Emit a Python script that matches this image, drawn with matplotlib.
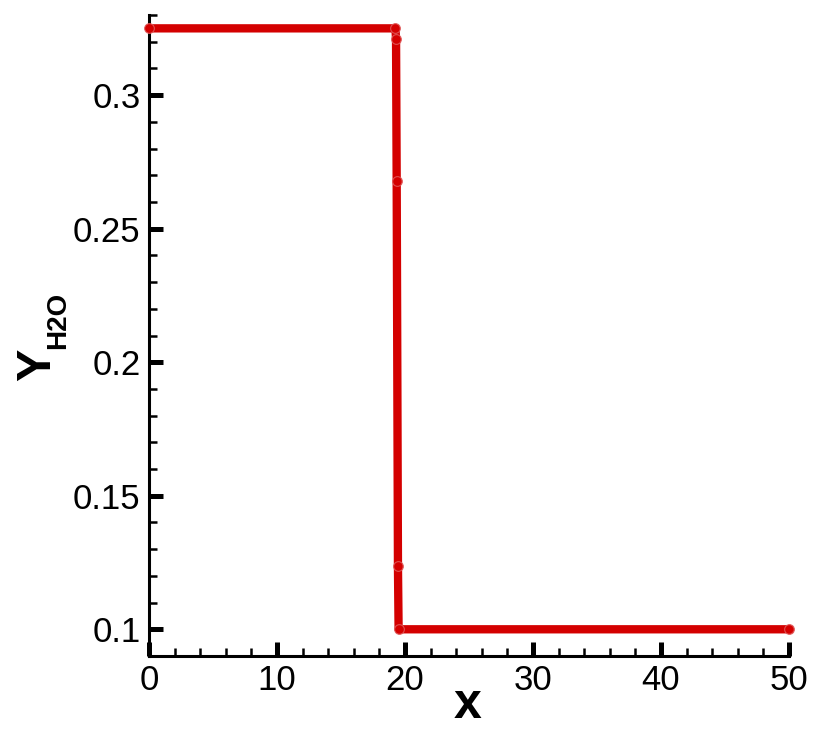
import numpy as np, matplotlib
matplotlib.use("Agg")
import matplotlib.pyplot as plt
from matplotlib.ticker import MultipleLocator

plt.rcParams.update({"font.family": ["Liberation Sans", "DejaVu Sans"]})
RED = "#d40000"

# step profile of H2O mass fraction
x_pts = [0.0, 19.25, 19.3, 19.35, 19.45, 19.5, 50.0]
y_pts = [0.325, 0.325, 0.3212, 0.268, 0.1236, 0.1, 0.1]

W, H = 830, 739
fig = plt.figure(figsize=(W / 100, H / 100), dpi=100)
ax = fig.add_axes([149 / W, 1 - 656 / H, (789 - 149) / W, (656 - 15) / H])
ax.plot(x_pts, y_pts, color=RED, lw=6, solid_joinstyle="round", solid_capstyle="round",
        zorder=3, clip_on=False)
ax.plot(x_pts, y_pts, ls="none", marker="o", ms=7, mfc=RED, mec="#e05a5a", mew=0.8,
        alpha=0.9, clip_on=False, zorder=4)
ax.set_xlim(0, 50); ax.set_ylim(0.09, 0.33)
for s in ("top", "right"):
    ax.spines[s].set_visible(False)
for s in ("left", "bottom"):
    ax.spines[s].set_linewidth(2.2)
ax.xaxis.set_major_locator(MultipleLocator(10)); ax.xaxis.set_minor_locator(MultipleLocator(2))
ax.yaxis.set_major_locator(MultipleLocator(0.05)); ax.yaxis.set_minor_locator(MultipleLocator(0.01))
ax.tick_params(which="major", direction="in", length=10, width=3.6, labelsize=25, pad=6)
ax.tick_params(which="minor", direction="in", length=6, width=1.8)
ax.set_yticks([0.1, 0.15, 0.2, 0.25, 0.3])
ax.set_yticklabels(["0.1", "0.15", "0.2", "0.25", "0.3"])

# axis titles placed by baseline
def px(xp, yp):
    return xp / W, 1 - yp / H
fig.text(*px(468, 718), "x", fontsize=36, fontweight="bold", ha="center", va="baseline")
fig.text(*px(50, 364.5), "Y", fontsize=35, fontweight="bold", ha="center", va="baseline",
         rotation=90, rotation_mode="anchor")
fig.text(*px(65, 320), "H2O", fontsize=20, fontweight="bold", ha="center", va="baseline",
         rotation=90, rotation_mode="anchor")

fig.savefig("out.png", facecolor="white")
